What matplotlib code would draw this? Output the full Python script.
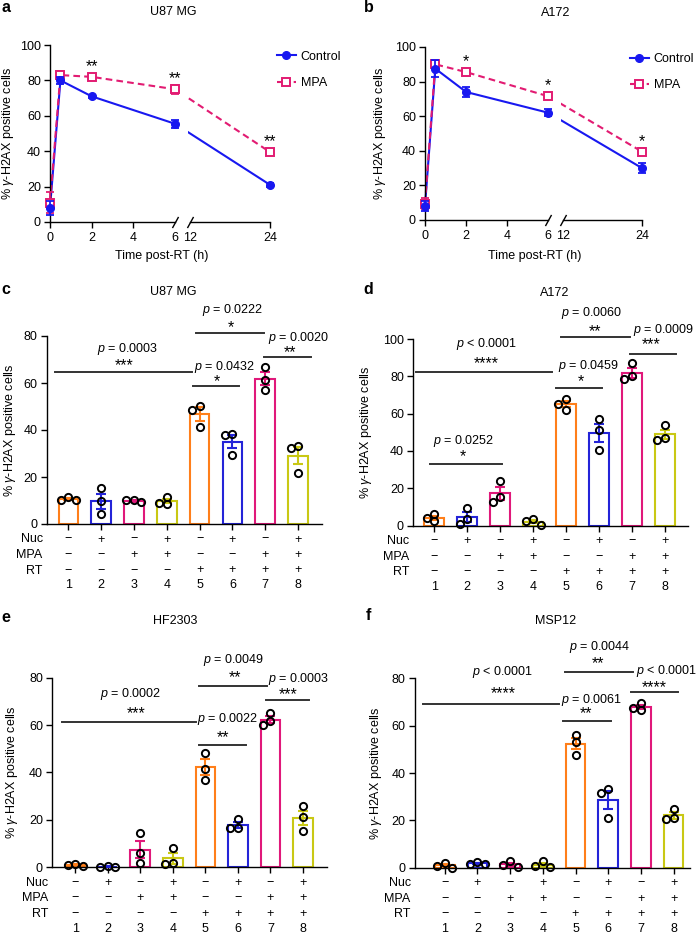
import numpy as np
import matplotlib
matplotlib.use("Agg")
import matplotlib.pyplot as plt
from matplotlib.lines import Line2D

plt.rcParams['font.family'] = ['Liberation Sans', 'DejaVu Sans']
plt.rcParams['mathtext.fontset'] = 'custom'
plt.rcParams['mathtext.rm'] = 'Liberation Sans'
plt.rcParams['mathtext.it'] = 'Liberation Sans:italic'
plt.rcParams['mathtext.bf'] = 'Liberation Sans:bold'

# ---------------- data ----------------
time_h = [0, 0.5, 2, 6, 24]
time_ticks = [0, 2, 4, 6, 12, 24]

a_ctrl = [8, 80, 71, 55.5, 21]
a_ctrl_err = [4, 2, 1, 2.2, 1]
a_mpa = [11, 83, 82, 75, 39.5]
a_mpa_err = [6, 2.5, 1, 2.5, 1.5]
a_stars = ["", "", "**", "**", "**"]

b_ctrl = [8, 87.5, 74, 62, 30]
b_ctrl_err = [3, 5, 3, 2, 3]
b_mpa = [9.5, 90, 85.5, 71.5, 39.5]
b_mpa_err = [3, 2, 1.5, 1.5, 2]
b_stars = ["", "", "*", "*", "*"]

groups = [1, 2, 3, 4, 5, 6, 7, 8]
nuc_row = ["−", "+", "−", "+", "−", "+", "−", "+"]
mpa_row = ["−", "−", "+", "+", "−", "−", "+", "+"]
rt_row = ["−", "−", "−", "−", "+", "+", "+", "+"]

c_pts = [[11.7, 10.3, 10.3], [15.2, 9.6, 4.1], [10.1, 10.1, 9.3], [11.3, 9.1, 8.4],
         [50.4, 48.7, 41.3], [38.2, 37.7, 29.4], [67.0, 61.4, 57.2], [33.0, 32.3, 21.9]]
d_pts = [[6.3, 4.1, 2.3], [9.5, 3.6, 0.9], [24.0, 15.5, 12.6], [3.6, 2.3, 0.5],
         [67.7, 65.2, 62.0], [57.1, 51.2, 40.5], [87.0, 80.2, 78.6], [53.9, 47.1, 45.9]]
e_pts = [[1.4, 1.1, 0.7], [0.5, 0.2, 0.2], [14.4, 6.2, 1.7], [8.2, 1.7, 1.4],
         [48.2, 41.5, 36.9], [20.4, 16.5, 16.5], [65.1, 61.5, 60.1], [25.9, 21.4, 15.4]]
f_pts = [[2.1, 0.8, 0.0], [2.5, 1.5, 1.5], [2.8, 1.1, 0.4], [2.8, 0.8, 0.4],
         [56.2, 53.3, 47.8], [33.4, 31.6, 21.2], [69.5, 67.3, 66.6], [25.0, 20.8, 20.5]]

# comparisons: (x0, x1, line_y, p-text, text_x, text_y, stars, star_x, star_y)
c_cmp = [(0.6, 4.76, 64.5, "$p$ = 0.0003", 2.79, 75.0, "***", 2.7, 69.6),
         (4.8, 6.2, 58.6, "$p$ = 0.0432", 5.75, 67.3, "*", 5.52, 62.6),
         (4.9, 6.97, 81.4, "$p$ = 0.0222", 6.02, 91.5, "*", 5.96, 85.4),
         (6.97, 8.4, 71.1, "$p$ = 0.0020", 8.02, 79.6, "**", 7.76, 75.0)]
d_cmp = [(0.45, 4.58, 82.5, "$p$ < 0.0001", 2.58, 98.0, "****", 2.58, 89.6),
         (0.88, 3.06, 32.9, "$p$ = 0.0252", 1.88, 46.2, "*", 1.88, 39.6),
         (4.7, 6.1, 74.0, "$p$ = 0.0459", 5.68, 86.4, "*", 5.44, 79.8),
         (4.85, 6.94, 100.9, "$p$ = 0.0060", 5.77, 115.0, "**", 5.87, 106.6),
         (6.94, 8.33, 92.0, "$p$ = 0.0009", 7.95, 105.7, "***", 7.58, 99.5)]
e_cmp = [(0.6, 4.73, 61.1, "$p$ = 0.0002", 2.69, 73.7, "***", 2.89, 67.0),
         (4.82, 6.26, 51.7, "$p$ = 0.0022", 5.70, 63.2, "**", 5.53, 56.6),
         (4.8, 6.9, 76.5, "$p$ = 0.0049", 5.88, 88.2, "**", 5.91, 82.0),
         (6.87, 8.2, 70.6, "$p$ = 0.0003", 7.88, 80.2, "***", 7.55, 74.8)]
f_cmp = [(0.34, 4.49, 69.2, "$p$ < 0.0001", 2.78, 83.2, "****", 2.78, 75.5),
         (4.62, 6.08, 61.9, "$p$ = 0.0061", 5.48, 71.5, "**", 5.31, 67.0),
         (4.67, 6.76, 82.5, "$p$ = 0.0044", 5.73, 94.0, "**", 5.69, 88.1),
         (6.7, 8.13, 74.3, "$p$ < 0.0001", 7.79, 83.6, "****", 7.4, 78.0)]

# ---------------- style ----------------
W, H = 696, 934
PX = 0.72  # points per pixel at dpi 100
FS = 9
STAR_FS = 11.5
CTRL_C = '#1818F0'
MPA_C = '#E21B72'
BAR_COLORS = ['#FF7F1A', '#2424D8', '#E0187A', '#C9C814'] * 2
YLAB = "% $\\gamma$-H2AX positive cells"

fig = plt.figure(figsize=(W / 100, H / 100), dpi=100)


def add_ax(l, r, t, b):
    return fig.add_axes([l / W, 1 - b / H, (r - l) / W, (b - t) / H])


def ftext(x, y, s, **kw):
    fig.text(x / W, 1 - y / H, s, **kw)


def style_axes(ax):
    for sp in ['top', 'right']:
        ax.spines[sp].set_visible(False)
    for sp in ['left', 'bottom']:
        ax.spines[sp].set_linewidth(1.0)
    ax.tick_params(direction='out', length=4.5, width=1.0, labelsize=FS, pad=2)


# broken x-axis: 0-6 linear, compressed gap, 12-24 compressed
G, S = 0.72, 0.32


def fwd(x):
    x = np.asarray(x, float)
    return np.where(x <= 6, x, np.where(x >= 12, 6 + G + (x - 12) * S, 6 + (x - 6) * G / 6))


def inv(u):
    u = np.asarray(u, float)
    return np.where(u <= 6, u, np.where(u >= 6 + G, 12 + (u - 6 - G) / S, 6 + (u - 6) * 6 / G))


def line_panel(ax, ctrl, ctrl_err, mpa, mpa_err, stars):
    style_axes(ax)
    ax.set_xscale('function', functions=(fwd, inv))
    ax.set_xlim(0, 24)
    ax.set_ylim(0, 100)
    ax.set_yticks([0, 20, 40, 60, 80, 100])
    ax.set_xticks(time_ticks)
    ax.set_xticklabels([str(t) for t in time_ticks])
    ax.tick_params(axis='x', pad=3)
    ax.spines['bottom'].set_visible(False)
    xt = ax.get_xaxis_transform()
    ax.plot([0, 6], [0, 0], color='k', lw=1.0, transform=xt, clip_on=False, zorder=5)
    ax.plot([12, 24], [0, 0], color='k', lw=1.0, transform=xt, clip_on=False, zorder=5)
    ax.plot([6, 12], [0, 0], ls='none', marker=[(-0.55, -1), (0.55, 1)], ms=8, mew=1.0,
            color='k', transform=xt, clip_on=False, zorder=5)
    for i, t in enumerate(ax.xaxis.get_major_ticks()):
        if time_ticks[i] in (6, 12):
            t.tick1line.set_visible(False)
    # lines
    ax.plot(time_h, ctrl, color=CTRL_C, lw=1.5, zorder=2, clip_on=False)
    ax.plot(time_h, mpa, color=MPA_C, lw=1.5, ls=(0, (3.2, 2.0)), zorder=2, clip_on=False)
    ax.axvspan(6.0, 11.2, color='white', zorder=2.5, lw=0)
    # error bars and markers
    ax.errorbar(time_h, mpa, yerr=mpa_err, fmt='none', ecolor=MPA_C, elinewidth=1.3,
                capsize=3, capthick=1.3, zorder=3, clip_on=False)
    ax.errorbar(time_h, ctrl, yerr=ctrl_err, fmt='none', ecolor=CTRL_C, elinewidth=1.3,
                capsize=3, capthick=1.3, zorder=3.2, clip_on=False)
    ax.plot(time_h, mpa, ls='none', marker='s', ms=6, mfc='white', mec=MPA_C, mew=1.4,
            zorder=3.1, clip_on=False)
    ax.plot(time_h, ctrl, ls='none', marker='o', ms=5.5, color=CTRL_C, zorder=3.3,
            clip_on=False)
    for t, v, s in zip(time_h, mpa, stars):
        if s:
            ax.annotate(s, (t, v), xytext=(0, 15 * PX - 0.58 * STAR_FS), textcoords='offset points',
                        ha='center', va='baseline', fontsize=STAR_FS)
    handles = [Line2D([], [], color=CTRL_C, lw=1.5, marker='o', ms=5.5),
               Line2D([], [], color=MPA_C, lw=1.5, ls=(0, (2.5, 1.5)), marker='s', ms=6,
                      mfc='white', mew=1.4)]
    return handles


def swarm(vals, sy, sx, d=7.5):
    placed, offs = [], []
    for v in vals:
        dx = 0.0
        for k in [0, -1, 1, -2, 2]:
            dx = k * d
            if all((dx - px) ** 2 + ((v - pv) * sy) ** 2 >= (0.9 * d) ** 2 for px, pv in placed):
                break
        placed.append((dx, v))
        offs.append(dx / sx)
    return offs


def bar_panel(ax, pts, ymax, xlim, cmp, wpx, hpx):
    style_axes(ax)
    ax.set_xlim(*xlim)
    ax.set_ylim(0, ymax)
    ax.set_yticks(np.arange(0, ymax + 1, 20))
    ax.set_xticks(groups)
    ax.set_xticklabels([])
    means = [np.mean(p) for p in pts]
    sems = [np.std(p, ddof=1) / np.sqrt(len(p)) for p in pts]
    ax.bar(groups, means, width=0.6, facecolor='white', edgecolor=BAR_COLORS,
           linewidth=1.5, zorder=2)
    sy = hpx / ymax
    sx = wpx / (xlim[1] - xlim[0])
    for g, m, s, p, c in zip(groups, means, sems, pts, BAR_COLORS):
        ax.errorbar(g, m, yerr=s, fmt='none', ecolor=c, elinewidth=1.5, capsize=3.5,
                    capthick=1.5, zorder=3)
        offs = swarm(p, sy, sx)
        ax.plot(np.array(offs) + g, p, ls='none', marker='o', ms=5.2, mfc='none', mec='black',
                mew=1.4, zorder=4, clip_on=False)
    for (x0, x1, y, ptxt, tx, ty, st, sxp, syp) in cmp:
        ax.plot([x0, x1], [y, y], color='#333333', lw=1.4, clip_on=False, zorder=5)
        ax.annotate(ptxt, (tx, ty), xytext=(0, -0.36 * FS), textcoords='offset points',
                    ha='center', va='baseline', fontsize=FS, annotation_clip=False)
        ax.annotate(st, (sxp, syp), xytext=(0, -0.58 * STAR_FS), textcoords='offset points',
                    ha='center', va='baseline', fontsize=STAR_FS, annotation_clip=False)
    # treatment table
    rows = [("Nuc", nuc_row), ("MPA", mpa_row), ("RT", rt_row)]
    for i, (name, signs) in enumerate(rows):
        dy = 15.5 * (i + 1)
        ax.annotate(name, (0, 0), xycoords='axes fraction', xytext=(-4 * PX, -dy * PX),
                    textcoords='offset points', ha='right', va='center', fontsize=FS,
                    annotation_clip=False)
        for g, s in zip(groups, signs):
            ax.annotate(s, (g, 0), xycoords=('data', 'axes fraction'), xytext=(0, -dy * PX),
                        textcoords='offset points', ha='center', va='center', fontsize=FS,
                        annotation_clip=False)
    for g in groups:
        ax.annotate(str(g), (g, 0), xycoords=('data', 'axes fraction'), xytext=(0, -61.5 * PX),
                    textcoords='offset points', ha='center', va='center', fontsize=FS,
                    annotation_clip=False)


# ---------------- panels a, b ----------------
axa = add_ax(50, 270, 45, 222)
ha = line_panel(axa, a_ctrl, a_ctrl_err, a_mpa, a_mpa_err, a_stars)
axa.legend(ha, ['Control', 'MPA'], loc='upper left', bbox_to_anchor=(277 / W, 1 - 50.5 / H),
           bbox_transform=fig.transFigure, frameon=False, fontsize=9, handlelength=1.5,
           handletextpad=0.4, labelspacing=1.15, borderpad=0, borderaxespad=0)

axb = add_ax(425, 642, 47, 220)
hb = line_panel(axb, b_ctrl, b_ctrl_err, b_mpa, b_mpa_err, b_stars)
axb.legend(hb, ['Control', 'MPA'], loc='upper left', bbox_to_anchor=(630 / W, 1 - 53.5 / H),
           bbox_transform=fig.transFigure, frameon=False, fontsize=9, handlelength=1.5,
           handletextpad=0.4, labelspacing=1.1, borderpad=0, borderaxespad=0)

ftext(161.7, 255.7, "Time post-RT (h)", ha='center', va='center', fontsize=FS)
ftext(534.7, 255.7, "Time post-RT (h)", ha='center', va='center', fontsize=FS)

# ---------------- panels c-f ----------------
axc = add_ax(46.7, 322, 336, 524)
bar_panel(axc, c_pts, 80, (0.34, 8.73), c_cmp, 275.3, 188)
axd = add_ax(413, 688, 339, 525.6)
bar_panel(axd, d_pts, 100, (0.36, 8.70), d_cmp, 275, 186.6)
axe = add_ax(52, 327, 677.6, 867.3)
bar_panel(axe, e_pts, 80, (0.29, 8.74), e_cmp, 275, 189.7)
axf = add_ax(414.7, 690, 678.3, 867.7)
bar_panel(axf, f_pts, 80, (0.083, 8.50), f_cmp, 275.3, 189.4)

# titles, panel letters, y labels
titles = [(173.3, 12.3, "U87 MG"), (555.3, 12.7, "A172"), (173.7, 291.7, "U87 MG"),
          (555, 292.7, "A172"), (175.3, 620.7, "HF2303"), (555.7, 620.7, "MSP12")]
for x, y, s in titles:
    ftext(x, y, s, ha='center', va='center', fontsize=FS)
letters = [(6, 8, "a"), (369, 7, "b"), (6, 290, "c"), (368, 290, "d"), (6, 617, "e"), (368, 616, "f")]
for x, y, s in letters:
    ftext(x, y, s, ha='center', va='center', fontsize=11.5, fontweight='bold')
ylabs = [(8, 133.5), (379.7, 133.5), (10, 430), (366, 432.3), (11.7, 772.5), (376.3, 773)]
for x, y in ylabs:
    ftext(x, y, YLAB, ha='center', va='center', rotation=90, fontsize=FS)

fig.savefig("out.png", dpi=100)
